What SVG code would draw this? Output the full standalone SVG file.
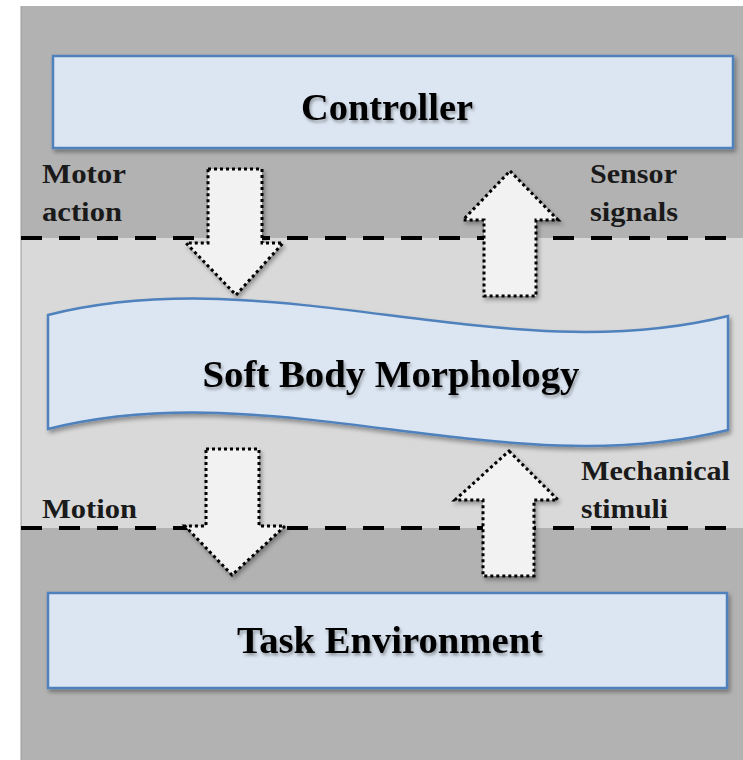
<svg xmlns="http://www.w3.org/2000/svg" width="743" height="760" viewBox="0 0 743 760">
  <style>
    .box { fill: #dce6f2; stroke: #4f81bd; stroke-width: 2.5; filter: url(#shadow); }
    .title { font-family: "Liberation Serif", "Times New Roman", serif; font-weight: bold; font-size: 37px; fill: #000; text-anchor: middle; filter: url(#tshadow); }
    .label { font-family: "Liberation Serif", "Times New Roman", serif; font-weight: bold; font-size: 27px; fill: #1a1a1a; }
    .arrow { fill: #f2f2f2; stroke: #000; stroke-width: 3; stroke-dasharray: 3 3; filter: url(#shadow); }
    .dash { stroke: #000; stroke-width: 4; stroke-dasharray: 21 17; fill: none; }
  </style>
  <defs>
    <filter id="shadow" x="-10%" y="-10%" width="120%" height="130%">
      <feDropShadow dx="2" dy="3" stdDeviation="2" flood-color="#000" flood-opacity="0.35"/>
    </filter>
    <filter id="tshadow" x="-5%" y="-20%" width="110%" height="150%">
      <feDropShadow dx="1.5" dy="2.5" stdDeviation="1.5" flood-color="#000" flood-opacity="0.35"/>
    </filter>
  </defs>

  <rect x="0" y="0" width="743" height="760" fill="#ffffff"/>
  <rect x="21" y="6" width="722" height="754" fill="#b2b2b2"/>
  <rect x="21" y="238" width="722" height="290" fill="#d9d9d9"/>
  <line x1="21" y1="6" x2="21" y2="760" stroke="#9a9a9a" stroke-width="1"/>

  <g id="connectors">
    <line class="dash" x1="21" y1="238" x2="743" y2="238"/>
    <line class="dash" x1="21" y1="528" x2="743" y2="528"/>
    <g id="arrow-motor-action">
      <path class="arrow" d="M208,169 L262,169 L262,243 L283,243 L236,295 L186,243 L208,243 Z"/>
    </g>
    <g id="arrow-sensor-signals">
      <path class="arrow" d="M510,171 L558,220 L536,220 L536,296 L484,296 L484,220 L463,220 Z"/>
    </g>
    <g id="arrow-motion">
      <path class="arrow" d="M206,449 L259,449 L259,526 L285,526 L232,575 L185,526 L206,526 Z"/>
    </g>
    <g id="arrow-mechanical-stimuli">
      <path class="arrow" d="M509,451 L558,500 L534,500 L534,576 L483,576 L483,500 L455,500 Z"/>
    </g>
  </g>

  <g id="controller">
    <rect class="box" x="53" y="56" width="680" height="92"/>
    <text class="title" x="387" y="120" textLength="172" lengthAdjust="spacingAndGlyphs">Controller</text>
  </g>

  <g id="soft-body-morphology">
    <path class="box" d="M48,315 C275,258 502,372 728,316 L728,430 C502,486 275,372 48,429 Z"/>
    <text class="title" x="391" y="387" textLength="377" lengthAdjust="spacingAndGlyphs">Soft Body Morphology</text>
  </g>

  <g id="task-environment">
    <rect class="box" x="48" y="593" width="679" height="95"/>
    <text class="title" x="390" y="653" textLength="306" lengthAdjust="spacingAndGlyphs">Task Environment</text>
  </g>

  <g id="labels">
    <text class="label" x="42" y="183" textLength="84" lengthAdjust="spacingAndGlyphs">Motor</text>
    <text class="label" x="42" y="221" textLength="80" lengthAdjust="spacingAndGlyphs">action</text>
    <text class="label" x="590" y="183" textLength="87" lengthAdjust="spacingAndGlyphs">Sensor</text>
    <text class="label" x="590" y="221" textLength="88" lengthAdjust="spacingAndGlyphs">signals</text>
    <text class="label" x="42" y="518" textLength="95" lengthAdjust="spacingAndGlyphs">Motion</text>
    <text class="label" x="581" y="480" textLength="149" lengthAdjust="spacingAndGlyphs">Mechanical</text>
    <text class="label" x="581" y="518" textLength="87" lengthAdjust="spacingAndGlyphs">stimuli</text>
  </g>
</svg>
